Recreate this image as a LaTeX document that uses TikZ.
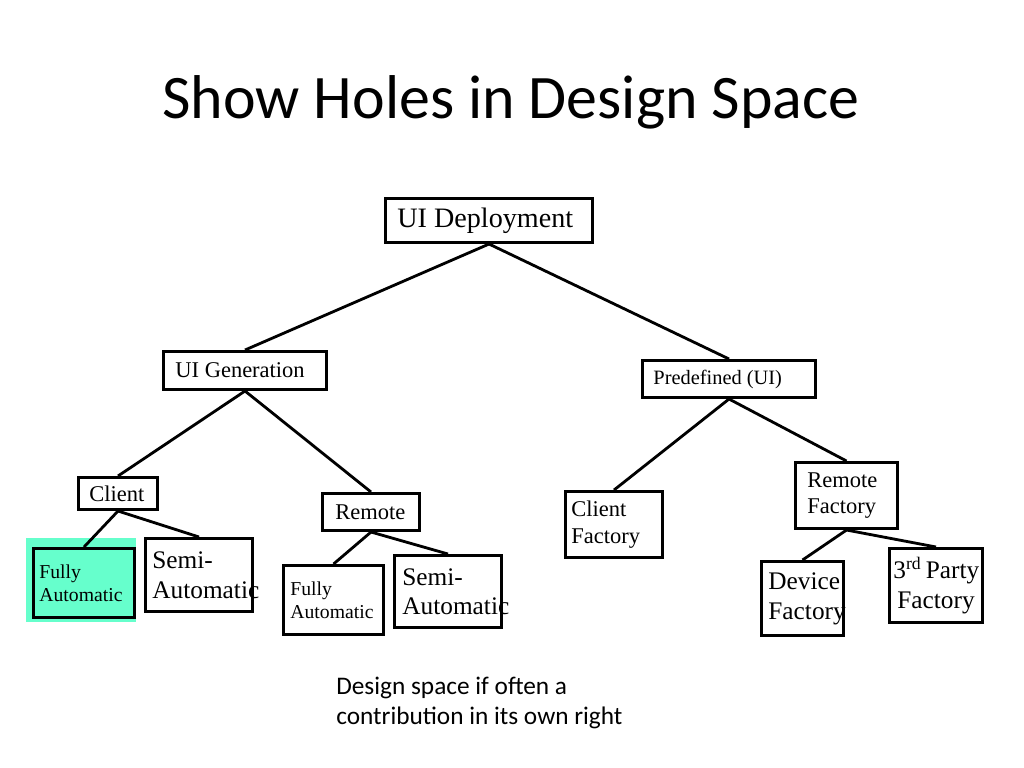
\documentclass[tikz,border=0pt]{standalone}
\usepackage{fontspec}
\setmainfont{Liberation Serif}
\newfontfamily\slidefont{Carlito}
\usepackage{tikz}
\hyphenpenalty=10000
\exhyphenpenalty=10000
\definecolor{hilite}{RGB}{102,255,204}

\begin{document}
\begin{tikzpicture}[x=0.025cm,y=-0.025cm,
  box/.style={draw,line width=2pt,anchor=north west,align=flush left,inner ysep=0pt},
  link/.style={line width=2pt}]
\useasboundingbox (0,0) rectangle (1024,768);
% title
\node[font=\slidefont\fontsize{44}{53}\selectfont] (title) at (511,102) {Show Holes in Design Space};
% highlight behind the chosen leaf
\fill[hilite] (26,538) rectangle (136,622);
% root
\node[box,font=\fontsize{20}{24}\selectfont,text width=4.58cm,inner xsep=0.3cm,minimum height=1.105cm] (deploy) at (384,197) {UI Deployment};
% second level
\node[box,font=\fontsize{16}{19}\selectfont,text width=3.48cm,inner xsep=0.3cm,minimum height=0.955cm] (gen) at (162,350) {UI Generation};
\node[box,font=\fontsize{14.5}{17}\selectfont,text width=3.78cm,inner xsep=0.275cm,minimum height=0.93cm] (predef) at (641,359) {Predefined (UI)};
% third level
\node[box,font=\fontsize{16}{19}\selectfont,text width=1.43cm,inner xsep=0.275cm,minimum height=0.805cm] (client) at (77,476) {Client};
\node[box,font=\fontsize{16}{19}\selectfont,text width=1.78cm,inner xsep=0.325cm,minimum height=0.93cm] (remote) at (321,492) {Remote};
\node[box,font=\fontsize{16}{19}\selectfont,text width=2.13cm,inner xsep=0.15cm,minimum height=1.655cm] (clientF) at (564,490) {Client\\Factory};
\node[box,font=\fontsize{16}{19}\selectfont,text width=1.955cm,inner xsep=0.3cm,minimum height=1.655cm] (remoteF) at (794,461) {Remote\\Factory};
% leaves
\node[box,fill=hilite,font=\fontsize{14}{16.5}\selectfont,text width=2.23cm,inner xsep=0.15cm,minimum height=1.73cm] (fullyA) at (32,547) {Fully\\Automatic};
\node[box,font=\fontsize{18}{21}\selectfont,text width=2.33cm,inner xsep=0.175cm,minimum height=1.83cm] (semiA) at (144,537) {Semi-\\Automatic};
\node[box,font=\fontsize{14}{16.5}\selectfont,text width=2.155cm,inner xsep=0.175cm,minimum height=1.73cm] (fullyB) at (282,564) {Fully\\Automatic};
\node[box,font=\fontsize{18}{21}\selectfont,text width=2.28cm,inner xsep=0.2cm,minimum height=1.805cm] (semiB) at (393,554) {Semi-\\Automatic};
\node[box,font=\fontsize{18}{21.5}\selectfont,text width=1.705cm,inner xsep=0.175cm,minimum height=1.855cm] (deviceF) at (760,560) {Device\\Factory};
\node[box,align=flush center,font=\fontsize{18}{21.5}\selectfont,text width=2.13cm,inner xsep=0.1cm,minimum height=1.855cm] (thirdF) at (888,547) {3\textsuperscript{rd}~Party\\Factory};
% connectors
\draw[link] (deploy.south) -- (gen.north);
\draw[link] (deploy.south) -- (predef.north);
\draw[link] (gen.south) -- (client.north);
\draw[link] (gen.south) -- (remote.north);
\draw[link] (client.south) -- (fullyA.north);
\draw[link] (client.south) -- (semiA.north);
\draw[link] (remote.south) -- (fullyB.north);
\draw[link] (remote.south) -- (semiB.north);
\draw[link] (predef.south) -- (clientF.north);
\draw[link] (predef.south) -- (remoteF.north);
\draw[link] (remoteF.south) -- (deviceF.north);
\draw[link] (remoteF.south) -- (thirdF.north);
% note
\node[anchor=west,inner sep=0pt,align=flush left,font=\slidefont\fontsize{18}{21.5}\selectfont] (note) at (336,703) {Design space if often a\\contribution in its own right};
\end{tikzpicture}
\end{document}
